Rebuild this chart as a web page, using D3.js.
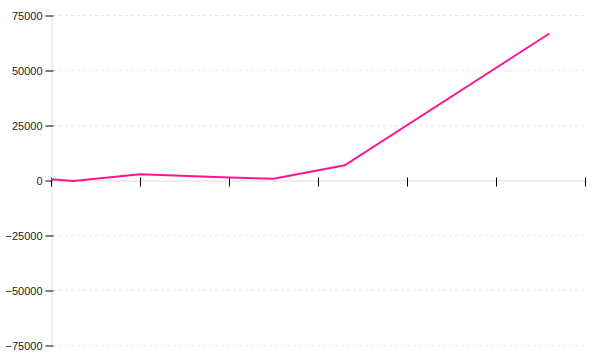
<!DOCTYPE html>
<html lang="en">
<head>
    <meta charset="UTF-8">
    <title>Line</title>
    <script src="https://cdn.jsdelivr.net/npm/d3@7"></script>
    <style>
        body { margin: 0; background: #fff; }
        .tick text { font-family: "Liberation Sans", Arial, sans-serif; font-size: 11px; fill: #222; }
    </style>
</head>
<body>
    <div id="chart"></div>
    <script>
        // data
        const xValues = [0, 0.25, 1, 2, 2.5, 3.3, 5.6];
        const yValues = [300, -400, 2600, 1100, 600, 6700, 66600];
        const yTicks = [-75000, -50000, -25000, 0, 25000, 50000, 75000];
        const xTicks = [0, 1, 2, 3, 4, 5, 6];

        const width = 600, height = 360;
        const padding = {left: 51, right: 15, top: 15, bottom: 15};

        const svg = d3.select('#chart').append('svg')
            .attr('width', width)
            .attr('height', height);

        const xScale = d3.scaleLinear()
            .domain([0, 6])
            .range([padding.left, width - padding.right]);
        const yScale = d3.scaleLinear()
            .domain([-75000, 75000])
            .range([height - padding.bottom, padding.top]);

        // dashed grid
        svg.append('g')
            .selectAll('line')
            .data(yTicks.filter(d => d !== 0))
            .enter().append('line')
            .attr('x1', xScale(0) + 2)
            .attr('x2', xScale(6))
            .attr('y1', d => Math.round(yScale(d)) + 0.5)
            .attr('y2', d => Math.round(yScale(d)) + 0.5)
            .attr('stroke', '#e6e6e6')
            .attr('stroke-dasharray', '3,3');

        // y axis
        const yAxis = svg.append('g')
            .attr('transform', 'translate(' + (padding.left + 0.5) + ',0.5)')
            .call(d3.axisLeft(yScale).tickValues(yTicks).tickFormat(d3.format('d'))
                .tickSize(6).tickPadding(3).tickSizeOuter(0));
        yAxis.select('.domain').attr('stroke', '#ddd');
        yAxis.selectAll('.tick line').attr('stroke', '#000').attr('x2', 2).attr('x1', -6);

        // x axis at zero
        const xAxis = svg.append('g')
            .attr('transform', 'translate(0,' + (Math.round(yScale(0)) + 0.5) + ')')
            .call(d3.axisBottom(xScale).tickValues(xTicks).tickSize(6).tickSizeOuter(0).tickFormat(''));
        xAxis.select('.domain').attr('stroke', '#ddd');
        xAxis.selectAll('.tick line').attr('stroke', '#000').attr('y1', -3).attr('y2', 6);

        const line = d3.line()
            .x((d, i) => xScale(xValues[i]))
            .y(d => yScale(d));

        svg.append('path')
            .datum(yValues)
            .attr('d', line)
            .attr('fill', 'none')
            .attr('stroke', '#ff1493')
            .attr('stroke-width', 2);
    </script>
</body>
</html>
